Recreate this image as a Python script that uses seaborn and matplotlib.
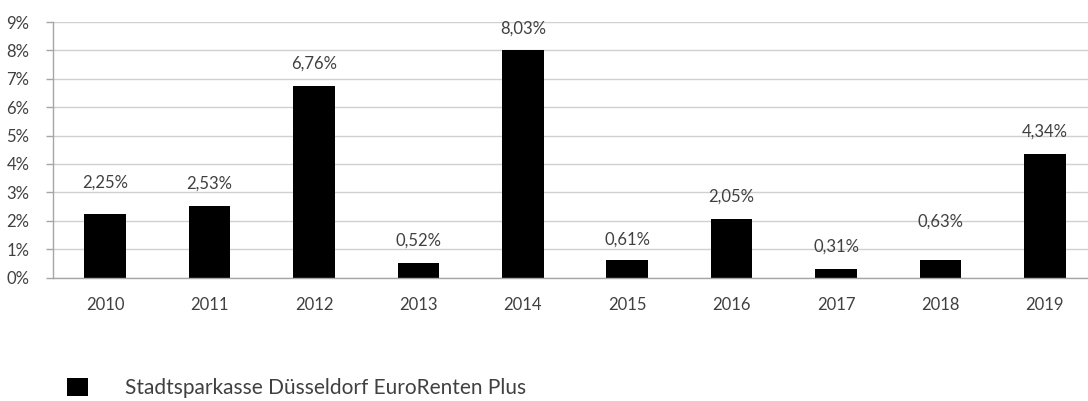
import numpy as np
import pandas as pd
import matplotlib
matplotlib.use('Agg')
import matplotlib.pyplot as plt
from matplotlib.patches import Patch
from matplotlib.ticker import FixedLocator
import seaborn as sns

sns.set_style('white')
plt.rcParams['font.family'] = ['Lato', 'DejaVu Sans']

years = ['2010', '2011', '2012', '2013', '2014', '2015', '2016', '2017', '2018', '2019']
returns = [2.25, 2.53, 6.76, 0.52, 8.03, 0.61, 2.05, 0.31, 0.63, 4.34]
fund_name = 'Stadtsparkasse Düsseldorf EuroRenten Plus'

# label lift above bar top in points (a couple are placed higher in the original)
label_lift = [22, 16, 16, 16, 15, 15, 16, 16, 27, 16]

text_col = '#404040'
axis_col = '#a6a6a6'

df = pd.DataFrame({'year': years, 'ret': returns})

fig = plt.figure(figsize=(10.88, 4.01), dpi=100)
ax = fig.add_axes([53 / 1088, 1 - 277.5 / 401, 1044 / 1088, 255.5 / 401])

sns.barplot(data=df, x='year', y='ret', color='black', width=0.4,
            saturation=1, ax=ax, edgecolor='none')

ax.set_xlim(-0.5, len(years) - 0.5)
ax.set_ylim(0, 9)
ax.set_yticks(range(10))
ax.set_yticklabels([f'{i}%' for i in range(10)])
ax.yaxis.grid(True, color='#d0d0d0', linewidth=1)
ax.set_axisbelow(True)
ax.set_xlabel('')
ax.set_ylabel('')

ax.xaxis.set_minor_locator(FixedLocator(np.arange(0.5, len(years) - 0.5, 1)))
ax.tick_params(axis='x', which='major', length=0, pad=14, labelsize=12, labelcolor=text_col)
ax.tick_params(axis='x', which='minor', length=6, width=1, color=axis_col, direction='out')
ax.tick_params(axis='y', length=5, width=1, color=axis_col, pad=12, labelsize=12,
               labelcolor=text_col, left=True)

for side in ['top', 'right']:
    ax.spines[side].set_visible(False)
for side in ['left', 'bottom']:
    ax.spines[side].set_color(axis_col)
    ax.spines[side].set_linewidth(1)

for i, (v, lift) in enumerate(zip(returns, label_lift)):
    ax.annotate(f'{v:.2f}'.replace('.', ',') + '%', (i, v), xytext=(0, lift),
                textcoords='offset points', ha='center', va='center',
                fontsize=12, color=text_col)

fig.legend(handles=[Patch(facecolor='black', edgecolor='none')], labels=[fund_name],
           loc='center left', bbox_to_anchor=(67 / 1088, 1 - 388 / 401),
           frameon=False, fontsize=15, handlelength=1, handleheight=1,
           handletextpad=1.8, borderpad=0, borderaxespad=0, labelcolor=text_col)

fig.savefig('out.png', dpi=100)
